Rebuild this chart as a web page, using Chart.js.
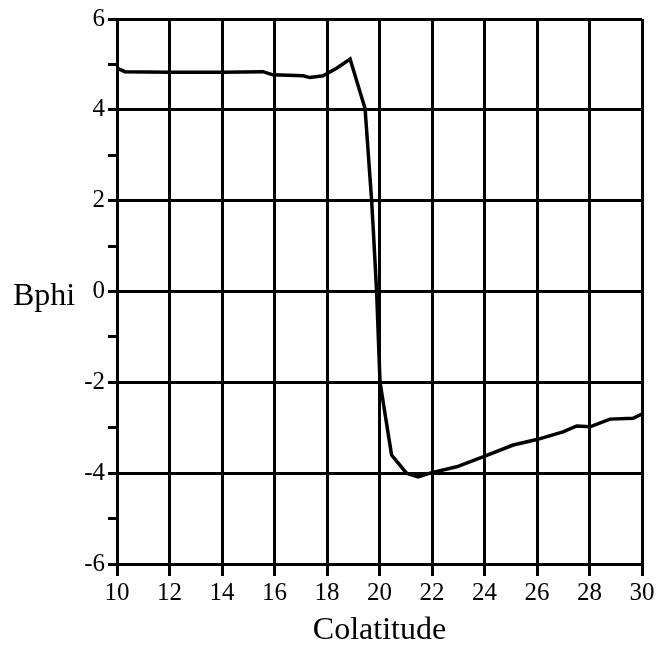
<!DOCTYPE html>
<html>
<head>
<meta charset="utf-8">
<script src="https://cdn.jsdelivr.net/npm/chart.js@4"></script>
<style>
  html, body { margin: 0; padding: 0; background: #fff; }
  #wrap { width: 672px; height: 645px; position: relative; }
</style>
</head>
<body>
<div id="wrap"><canvas id="myChart"></canvas></div>
<script>
// values
const colatitude = [10, 10.3, 12, 14, 15.56, 15.94, 17.09, 17.35, 17.85, 18.38, 18.88, 19.45, 19.70, 19.77, 19.89, 20.02, 20.46, 21.03, 21.47, 21.92, 22.94, 23.94, 25.09, 25.99, 26.99, 27.51, 28.02, 28.78, 29.66, 29.92, 30];
const bphi = [4.92, 4.84, 4.83, 4.83, 4.84, 4.77, 4.75, 4.71, 4.75, 4.92, 5.12, 4.03, 2.0, 1.29, 0, -2.0, -3.6, -4.0, -4.08, -4.0, -3.86, -3.64, -3.38, -3.26, -3.09, -2.96, -2.98, -2.81, -2.79, -2.72, -2.70];
const xTicks = [10, 12, 14, 16, 18, 20, 22, 24, 26, 28, 30];
const yTicks = [-6, -4, -2, 0, 2, 4, 6];

const serif = '"Liberation Serif", "DejaVu Serif", serif';

// y axis title is written flat, left of the labels
const flatYTitle = {
    id: 'flatYTitle',
    afterDraw(chart) {
        var ctx = chart.ctx;
        var y0 = chart.scales.y.getPixelForValue(0);
        ctx.save();
        ctx.fillStyle = '#000';
        ctx.font = '32px ' + serif;
        ctx.textAlign = 'left';
        ctx.textBaseline = 'alphabetic';
        ctx.fillText('Bphi', 13, y0 + 13);
        ctx.restore();
    }
};

var points = colatitude.map((c, i) => ({ x: c, y: bphi[i] }));

var ctx = document.getElementById('myChart').getContext('2d');
var myChart = new Chart(ctx, {
    type: 'line',
    data: {
        datasets: [{
            label: 'Bphi',
            data: points,
            borderColor: '#000',
            borderWidth: 3.5,
            pointRadius: 0,
            tension: 0,
            fill: false
        }]
    },
    options: {
        responsive: true,
        maintainAspectRatio: false,
        animation: false,
        layout: { padding: { top: 19, right: 30, bottom: 0, left: 0 } },
        plugins: {
            legend: { display: false },
            tooltip: { enabled: false }
        },
        scales: {
            x: {
                type: 'linear',
                min: 10,
                max: 30,
                afterBuildTicks: s => { s.ticks = xTicks.map(v => ({ value: v })); },
                afterFit: s => { s.height = 81; },
                ticks: {
                    color: '#000',
                    font: { family: serif, size: 25 },
                    padding: 2,
                    maxRotation: 0
                },
                grid: { color: '#000', lineWidth: 3, tickLength: 12 },
                border: { color: '#000', width: 3 },
                title: {
                    display: true,
                    text: 'Colatitude',
                    color: '#000',
                    font: { family: serif, size: 32 },
                    padding: { top: 0, bottom: -5 }
                }
            },
            y: {
                min: -6,
                max: 6,
                afterBuildTicks: s => {
                    var t = [];
                    for (var v = -6; v <= 6; v++) t.push({ value: v });
                    s.ticks = t;
                },
                afterFit: s => { s.width = 117; },
                ticks: {
                    color: '#000',
                    font: { family: serif, size: 25 },
                    padding: 3,
                    callback: v => yTicks.includes(v) ? String(v) : ''
                },
                grid: {
                    color: c => yTicks.includes(c.tick.value) ? '#000' : 'rgba(0,0,0,0)',
                    tickColor: '#000',
                    lineWidth: 3,
                    tickLength: 9
                },
                border: { color: '#000', width: 3 }
            }
        }
    },
    plugins: [flatYTitle]
});
</script>
</body>
</html>
